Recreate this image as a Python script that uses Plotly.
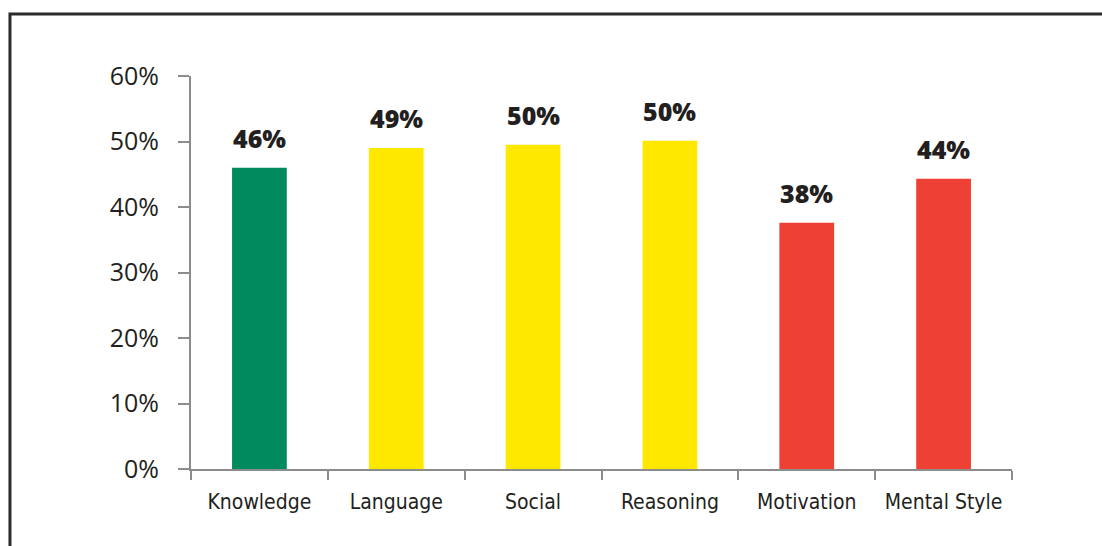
import plotly.graph_objects as go

categories = ["Knowledge", "Language", "Social", "Reasoning", "Motivation", "Mental Style"]
values = [46.0, 49.0, 49.5, 50.1, 37.6, 44.3]
labels = ["46%", "49%", "50%", "50%", "38%", "44%"]
colors = ["#008A5E", "#FFE800", "#FFE800", "#FFE800", "#EE4035", "#EE4035"]
y_ticks = [0, 10, 20, 30, 40, 50, 60]
y_tick_text = ["0%", "10%", "20%", "30%", "40%", "50%", "60%"]

fig = go.Figure()
fig.add_trace(go.Bar(
    x=categories, y=values, marker=dict(color=colors, line=dict(width=0)),
    width=0.4, hoverinfo="skip",
))

for c, v, t in zip(categories, values, labels):
    fig.add_annotation(x=c, y=v, text=t, showarrow=False,
                       yanchor="middle", yshift=30,
                       font=dict(family="Open Sans", size=25, color="#231F20", weight=800))

# outer frame (left and top edges visible)
fig.add_shape(type="rect", xref="paper", yref="paper",
              x0=-0.2205, x1=1.3, y0=-0.4, y1=1.1578,
              line=dict(color="#2B2B2B", width=3), layer="below")

fig.update_layout(
    width=1102, height=546,
    margin=dict(l=191, r=90, t=76, b=77),
    paper_bgcolor="white", plot_bgcolor="white",
    showlegend=False,
    xaxis=dict(
        showline=True, linecolor="#8C8C8C", linewidth=2,
        ticks="outside", tickson="boundaries", ticklen=9, tickwidth=2, tickcolor="#8C8C8C",
        tickfont=dict(family="DejaVu Sans Condensed, Roboto", size=21, color="#231F20"),
        ticklabelstandoff=13,
        showgrid=False, zeroline=False,
    ),
    yaxis=dict(
        range=[0, 60], tickvals=y_ticks, ticktext=y_tick_text,
        showline=True, linecolor="#8C8C8C", linewidth=2,
        ticks="outside", ticklen=11, tickwidth=2, tickcolor="#8C8C8C",
        tickfont=dict(family="Open Sans", size=25, color="#231F20"),
        ticklabelstandoff=14,
        showgrid=False, zeroline=False,
    ),
)

fig.write_html("out.html")
